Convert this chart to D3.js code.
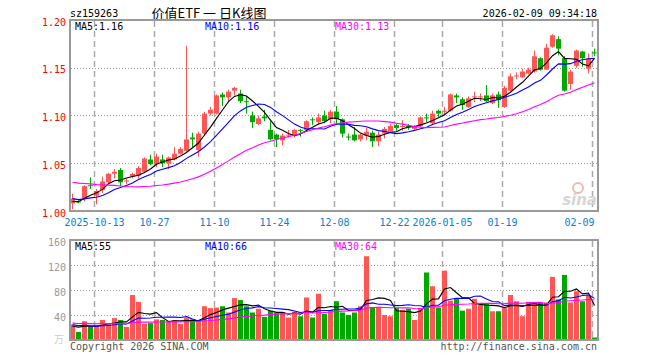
<!DOCTYPE html>
<html>
<head>
<meta charset="utf-8">
<script src="https://cdn.jsdelivr.net/npm/d3@7"></script>
<style>
body { margin: 0; background: #fff; }
svg { display: block; }
text { font-family: "DejaVu Sans Mono", monospace; font-size: 10px; }
</style>
</head>
<body>
<div id="chart"></div>
<script>
// trading days shown on the chart
const dates = [
  "2025-09-29","2025-09-30","2025-10-09","2025-10-10","2025-10-13","2025-10-14","2025-10-15","2025-10-16","2025-10-17",
  "2025-10-20","2025-10-21","2025-10-22","2025-10-23","2025-10-24","2025-10-27","2025-10-28","2025-10-29","2025-10-30","2025-10-31",
  "2025-11-03","2025-11-04","2025-11-05","2025-11-06","2025-11-07","2025-11-10","2025-11-11","2025-11-12","2025-11-13","2025-11-14",
  "2025-11-17","2025-11-18","2025-11-19","2025-11-20","2025-11-21","2025-11-24","2025-11-25","2025-11-26","2025-11-27","2025-11-28",
  "2025-12-01","2025-12-02","2025-12-03","2025-12-04","2025-12-05","2025-12-08","2025-12-09","2025-12-10","2025-12-11","2025-12-12",
  "2025-12-15","2025-12-16","2025-12-17","2025-12-18","2025-12-19","2025-12-22","2025-12-23","2025-12-24","2025-12-25","2025-12-26",
  "2025-12-29","2025-12-30","2025-12-31","2026-01-05","2026-01-06","2026-01-07","2026-01-08","2026-01-09",
  "2026-01-12","2026-01-13","2026-01-14","2026-01-15","2026-01-16","2026-01-19","2026-01-20","2026-01-21","2026-01-22","2026-01-23",
  "2026-01-26","2026-01-27","2026-01-28","2026-01-29","2026-01-30","2026-02-02","2026-02-03","2026-02-04","2026-02-05","2026-02-06",
  "2026-02-09"
];

const openP = [
  1.008,1.010,1.013,1.027,1.016,1.022,1.030,1.039,1.043,1.031,1.036,1.037,1.041,1.054,1.049,1.054,1.050,1.054,1.060,1.063,
  1.077,1.064,1.081,1.102,1.102,1.122,1.119,1.126,1.123,1.115,1.100,1.091,1.099,1.085,1.080,1.074,1.079,1.079,1.085,1.085,
  1.096,1.093,1.100,1.096,1.104,1.096,1.078,1.080,1.075,1.079,1.082,1.073,1.081,1.083,1.090,1.088,1.089,1.086,1.089,1.098,
  1.092,1.105,1.104,1.105,1.121,1.117,1.109,1.119,1.119,1.121,1.113,1.122,1.109,1.126,1.141,1.140,1.144,1.146,1.160,1.148,
  1.172,1.180,1.160,1.133,1.152,1.167,1.149,1.166
];
const highP = [
  1.018,1.012,1.027,1.035,1.023,1.036,1.040,1.044,1.045,1.034,1.040,1.047,1.056,1.059,1.060,1.059,1.057,1.067,1.067,1.173,
  1.082,1.083,1.104,1.109,1.122,1.124,1.127,1.130,1.127,1.120,1.104,1.100,1.106,1.094,1.081,1.081,1.085,1.086,1.086,1.095,
  1.098,1.102,1.105,1.106,1.110,1.097,1.081,1.088,1.081,1.087,1.084,1.083,1.088,1.091,1.091,1.095,1.091,1.090,1.099,1.102,
  1.105,1.106,1.109,1.123,1.123,1.119,1.120,1.125,1.123,1.132,1.123,1.125,1.131,1.144,1.145,1.149,1.150,1.168,1.161,1.175,
  1.185,1.183,1.162,1.148,1.169,1.168,1.165,1.170
];
const lowP = [
  1.002,1.008,1.010,1.023,1.007,1.019,1.029,1.034,1.026,1.028,1.034,1.034,1.040,1.048,1.046,1.046,1.044,1.053,1.059,1.062,
  1.067,1.057,1.079,1.100,1.101,1.110,1.115,1.121,1.113,1.102,1.087,1.090,1.094,1.074,1.067,1.069,1.077,1.077,1.078,1.084,
  1.090,1.090,1.092,1.092,1.090,1.077,1.074,1.073,1.073,1.074,1.067,1.068,1.076,1.082,1.084,1.084,1.085,1.085,1.088,1.093,
  1.091,1.098,1.100,1.104,1.113,1.106,1.108,1.114,1.115,1.114,1.112,1.108,1.108,1.125,1.138,1.139,1.143,1.145,1.147,1.148,
  1.171,1.163,1.125,1.127,1.150,1.151,1.144,1.162
];
const closeP = [
  1.013,1.009,1.026,1.026,1.021,1.031,1.039,1.041,1.030,1.032,1.039,1.045,1.055,1.049,1.057,1.050,1.056,1.060,1.065,1.075,
  1.075,1.081,1.102,1.106,1.121,1.119,1.125,1.129,1.115,1.114,1.093,1.097,1.097,1.075,1.075,1.079,1.080,1.085,1.084,1.094,
  1.095,1.098,1.094,1.104,1.096,1.081,1.077,1.074,1.080,1.083,1.073,1.080,1.086,1.089,1.087,1.089,1.088,1.089,1.098,1.097,
  1.102,1.102,1.105,1.122,1.119,1.111,1.118,1.120,1.120,1.115,1.121,1.116,1.129,1.141,1.142,1.146,1.148,1.162,1.148,1.171,
  1.184,1.170,1.126,1.146,1.168,1.160,1.160,1.165
];
// volume, 万手
const volume = [
  25,13,30,21,22,32,25,35,32,21,72,61,26,27,33,32,30,32,26,35,
  33,30,54,51,52,54,44,67,64,54,44,50,37,47,43,44,36,45,38,68,
  36,74,42,48,62,44,40,44,54,134,52,53,40,38,51,48,50,32,51,108,
  86,52,111,63,66,47,50,66,56,59,46,46,51,72,62,38,61,60,60,60,
  101,65,104,60,78,62,72,4
];

// closes / volumes of the 29 sessions before the window (only feed the moving averages)
const priorClose = [
  1.036,1.040,1.038,1.042,1.045,1.043,1.047,1.050,1.048,1.046,1.049,1.044,1.040,1.036,1.033,
  1.030,1.028,1.031,1.026,1.022,1.020,1.018,1.016,1.014,1.012,1.010,1.008,1.010,1.009
];
const priorVolume = [
  30,26,34,29,25,31,27,24,33,28,26,30,25,29,32,27,24,29,28,28,
  28,25,30,26,26,20,23,19,23
];

const priceTicks = [1.00, 1.05, 1.10, 1.15, 1.20];
const volumeTicks = [40, 80, 120, 160];
const tickDates = ["2025-10-13","2025-10-27","2025-11-10","2025-11-24","2025-12-08","2025-12-22","2026-01-05","2026-01-19","2026-02-09"];
const tickLabels = ["2025-10-13","10-27","11-10","11-24","12-08","12-22","2026-01-05","01-19","02-09"];

const maPeriods = [5, 10, 30];
const maColors = ["#000000", "#0000ff", "#ff00ff"];
const priceMaText = ["MA5:1.16", "MA10:1.16", "MA30:1.13"];
const volumeMaText = ["MA5:55", "MA10:66", "MA30:64"];

const up = "#ff5555", down = "#00a800";

const svg = d3.select("#chart").append("svg")
  .attr("width", 660).attr("height", 360);

const x = d3.scaleBand()
  .domain(dates)
  .range([69.5, 597.5])
  .paddingInner(1 / 6)
  .paddingOuter(1 / 12);

const yP = d3.scaleLinear().domain([1.0, 1.2]).range([211, 20]);
const yV = d3.scaleLinear().domain([0, 160]).range([340, 240]);

function movingAvg(prior, vals, n) {
  const all = prior.concat(vals);
  return vals.map((v, i) => {
    const end = prior.length + i;
    return d3.mean(all.slice(end - n + 1, end + 1));
  });
}

// header
svg.append("text").attr("x", 70).attr("y", 17).text("sz159263");
svg.append("text").attr("x", 209).attr("y", 18).attr("text-anchor", "middle")
  .style("font-family", "'Noto Sans CJK SC', sans-serif").style("font-size", "13px")
  .text("价值ETF 一 日K线图");
svg.append("text").attr("x", 597).attr("y", 17).attr("text-anchor", "end").text("2026-02-09 09:34:18");

function panel(yScale, ticks, top, bottom) {
  const g = svg.append("g");
  // horizontal dotted grid
  g.selectAll(".h").data(ticks.filter(t => yScale(t) > top + 1 && yScale(t) < bottom - 1))
    .enter().append("line")
    .attr("x1", 71).attr("x2", 597)
    .attr("y1", d => Math.round(yScale(d)) + 0.5).attr("y2", d => Math.round(yScale(d)) + 0.5)
    .attr("stroke", "#999").attr("stroke-dasharray", "1,2");
  // vertical dashed grid
  g.selectAll(".v").data(tickDates).enter().append("line")
    .attr("x1", d => x(d) + 0.5).attr("x2", d => x(d) + 0.5)
    .attr("y1", top + 1).attr("y2", bottom)
    .attr("stroke", "#aaa").attr("stroke-width", 1.5).attr("stroke-dasharray", "6,4");
  return g;
}

panel(yP, priceTicks, 20, 211);
panel(yV, volumeTicks, 240, 340);

// sina watermark
svg.append("circle").attr("cx", 578).attr("cy", 188).attr("r", 5)
  .attr("fill", "none").attr("stroke", "#f2b8b8").attr("stroke-width", 2);
svg.append("text").attr("x", 597).attr("y", 205).attr("text-anchor", "end")
  .style("font-family", "'DejaVu Sans', sans-serif").style("font-size", "15px")
  .style("font-style", "italic").style("font-weight", "bold")
  .attr("fill", "#d6d6d6").text("sina");

// candles
const idx = d3.range(dates.length);
const candles = svg.append("g");
candles.selectAll("line").data(idx).enter().append("line")
  .attr("x1", i => x(dates[i]) + 2.5).attr("x2", i => x(dates[i]) + 2.5)
  .attr("y1", i => yP(highP[i])).attr("y2", i => yP(lowP[i]))
  .attr("stroke", i => closeP[i] >= openP[i] ? up : down);
candles.selectAll("rect").data(idx).enter().append("rect")
  .attr("x", i => x(dates[i]))
  .attr("width", x.bandwidth())
  .attr("y", i => yP(Math.max(openP[i], closeP[i])))
  .attr("height", i => Math.max(1, Math.abs(yP(openP[i]) - yP(closeP[i]))))
  .attr("fill", i => closeP[i] >= openP[i] ? up : down);

// volume bars
svg.append("g").selectAll("rect").data(idx).enter().append("rect")
  .attr("x", i => x(dates[i]))
  .attr("width", x.bandwidth())
  .attr("y", i => yV(volume[i]))
  .attr("height", i => yV(0) - yV(volume[i]))
  .attr("fill", i => closeP[i] >= openP[i] ? up : down);

// moving averages
maPeriods.forEach((n, k) => {
  const maP = movingAvg(priorClose, closeP, n);
  const maV = movingAvg(priorVolume, volume, n);
  const lp = d3.line().x((d, i) => x(dates[i]) + 2.5).y(d => yP(d));
  const lv = d3.line().x((d, i) => x(dates[i]) + 2.5).y(d => yV(d));
  svg.append("path").attr("d", lp(maP)).attr("fill", "none")
    .attr("stroke", maColors[k]).attr("stroke-width", 1.1);
  svg.append("path").attr("d", lv(maV)).attr("fill", "none")
    .attr("stroke", maColors[k]).attr("stroke-width", 1.1);
});

// frames
svg.append("rect").attr("x", 70).attr("y", 20).attr("width", 528).attr("height", 191)
  .attr("fill", "none").attr("stroke", "#999").attr("stroke-width", 2);
svg.append("rect").attr("x", 70).attr("y", 240).attr("width", 528).attr("height", 100)
  .attr("fill", "none").attr("stroke", "#999").attr("stroke-width", 2);

// legends
const legendX = [75, 205, 335];
priceMaText.forEach((t, k) => {
  svg.append("text").attr("x", legendX[k]).attr("y", 30).attr("fill", maColors[k]).text(t);
});
volumeMaText.forEach((t, k) => {
  svg.append("text").attr("x", legendX[k]).attr("y", 250).attr("fill", maColors[k]).text(t);
});

// axes
const yAxisP = svg.append("g").attr("transform", "translate(70,0)")
  .call(d3.axisLeft(yP).tickValues(priceTicks).tickFormat(d3.format(".2f")).tickSize(0).tickPadding(4));
yAxisP.select(".domain").remove();
yAxisP.selectAll("text").attr("fill", "#ff0000").attr("dy", "0.5em")
  .style("font-family", "'DejaVu Sans Mono', monospace").style("font-size", "10px");

const yAxisV = svg.append("g").attr("transform", "translate(70,0)")
  .call(d3.axisLeft(yV).tickValues(volumeTicks).tickSize(0).tickPadding(4));
yAxisV.select(".domain").remove();
yAxisV.selectAll("text").attr("fill", "#999").attr("dy", "0.5em")
  .style("font-family", "'DejaVu Sans Mono', monospace").style("font-size", "10px");
svg.append("text").attr("x", 64).attr("y", 343).attr("text-anchor", "end")
  .attr("fill", "#ccc").style("font-family", "'Noto Sans CJK SC', sans-serif").text("万");

const xAxis = svg.append("g").attr("transform", "translate(-2,211)")
  .call(d3.axisBottom(x).tickValues(tickDates)
    .tickFormat(d => tickLabels[tickDates.indexOf(d)]).tickSize(0).tickPadding(8));
xAxis.select(".domain").remove();
xAxis.selectAll("text").attr("fill", "#0a80d0")
  .style("font-family", "'DejaVu Sans Mono', monospace").style("font-size", "10px");
xAxis.selectAll(".tick").filter(d => d === "2026-02-09").select("text")
  .attr("text-anchor", "end").attr("dx", "2px");

// footer
svg.append("text").attr("x", 70).attr("y", 350).attr("fill", "#555").text("Copyright 2026 SINA.COM");
svg.append("text").attr("x", 597).attr("y", 350).attr("text-anchor", "end").attr("fill", "#555")
  .text("http://finance.sina.com.cn");
</script>
</body>
</html>
